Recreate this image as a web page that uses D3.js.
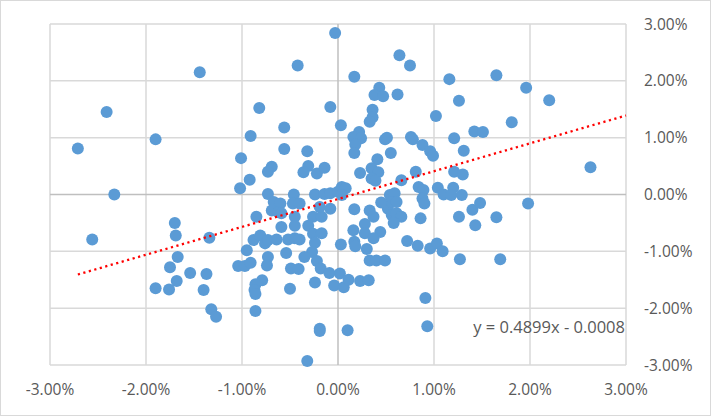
<!DOCTYPE html>
<html>
<head>
<meta charset="utf-8">
<script src="https://cdn.jsdelivr.net/npm/d3@7"></script>
<style>
  html, body { margin: 0; padding: 0; background: #ffffff; }
  svg { display: block; }
  text { font-family: "Open Sans", "Liberation Sans", sans-serif; }
</style>
</head>
<body>
<script>
// Data values in percent (x = market return, y = asset return)
const xValues = [
  -2.41,-2.71,-1.90,-2.33,-1.44,-0.42,-0.03,-0.82,-0.08,-0.56,-0.91,-1.01,-0.56,-0.32,-0.69,-0.73,-0.31,-0.36,-0.22,-0.14,
  -0.92,-1.02,-0.73,-0.46,-0.24,-0.14,-0.08,0.64,0.75,0.17,1.16,0.43,0.38,0.47,0.62,1.26,0.36,0.36,0.33,1.02,
  0.03,1.42,0.22,0.16,0.24,0.18,0.17,0.49,0.51,0.76,0.78,0.88,1.21,0.96,0.99,1.31,0.55,0.41,0.35,0.42,
  0.35,0.39,0.23,0.81,0.66,1.21,1.30,0.00,0.04,0.08,0.04,0.54,0.59,0.84,0.89,1.04,1.10,1.20,1.18,1.29,
  1.65,1.96,2.20,1.81,1.51,2.63,
  -2.56,-1.70,-1.69,-1.67,-1.75,-1.68,-1.90,-1.76,-1.54,-0.67,-0.60,-0.69,-0.62,-0.47,-0.40,-0.85,-0.59,-0.59,-0.45,-0.45,
  -0.26,-0.17,-0.19,-0.08,-0.31,-1.34,-0.88,-0.81,-0.76,-0.73,-0.64,-0.52,-0.45,-0.40,-0.26,-0.17,-0.24,-0.95,-0.54,-0.27,
  -0.35,-0.73,-0.74,-1.04,-0.97,-0.91,-0.22,-0.18,-0.09,-0.49,-0.41,-1.37,-0.79,-0.86,-0.87,-0.86,-0.24,-1.40,-0.50,-0.04,
  -1.32,-1.27,-0.86,-0.19,-0.19,-0.32,0.17,0.33,0.37,0.52,0.56,0.61,0.66,0.58,0.56,0.61,0.45,0.88,0.90,0.86,
  1.26,1.40,1.43,1.48,1.65,1.98,1.69,0.28,0.16,0.28,0.44,0.37,0.17,0.18,0.03,0.30,0.72,0.83,0.96,1.03,
  1.09,1.27,0.33,0.40,0.49,0.02,0.06,0.11,0.23,0.32,0.91,0.10,0.93
];
const yValues = [
  1.45,0.81,0.97,0.00,2.15,2.27,2.84,1.52,1.54,1.18,1.03,0.64,0.80,0.76,0.49,0.40,0.50,0.39,0.37,0.47,
  0.26,0.11,0.01,0.00,0.00,0.01,0.02,2.45,2.27,2.07,2.03,1.88,1.75,1.73,1.76,1.65,1.49,1.36,1.28,1.38,
  1.22,1.11,1.10,1.01,0.99,0.88,0.73,0.97,1.00,1.01,0.97,0.87,0.99,0.76,0.68,0.77,0.73,0.62,0.46,0.39,
  0.28,0.24,0.38,0.40,0.25,0.40,0.35,0.05,0.13,0.11,-0.01,-0.01,0.02,0.13,0.08,0.12,0.00,0.12,-0.01,-0.01,
  2.10,1.88,1.66,1.27,1.10,0.48,
  -0.79,-0.50,-0.72,-1.10,-1.28,-1.52,-1.65,-1.67,-1.38,-0.13,-0.16,-0.28,-0.31,-0.16,-0.16,-0.39,-0.33,-0.57,-0.39,-0.55,
  -0.39,-0.39,-0.22,-0.25,-0.55,-0.76,-0.80,-0.72,-0.86,-0.80,-0.79,-0.79,-0.77,-0.79,-0.69,-0.68,-0.85,-0.98,-1.03,-1.01,
  -1.10,-1.10,-1.25,-1.26,-1.26,-1.20,-1.17,-1.30,-1.38,-1.30,-1.31,-1.40,-1.51,-1.58,-1.68,-1.75,-1.55,-1.68,-1.66,-1.60,
  -2.02,-2.15,-2.05,-2.36,-2.40,-2.93,-0.26,-0.28,-0.39,-0.25,-0.36,-0.33,-0.39,-0.50,-0.13,-0.13,-0.14,-0.07,-0.16,-0.42,
  -0.39,-0.27,-0.54,-0.15,-0.40,-0.16,-1.14,-0.52,-0.63,-0.68,-0.66,-0.77,-0.83,-0.91,-0.88,-0.96,-0.82,-0.90,-0.95,-0.86,
  -1.00,-1.14,-1.16,-1.16,-1.16,-1.39,-1.63,-1.50,-1.52,-1.51,-1.82,-2.39,-2.32
];
const xTicks = [-3, -2, -1, 0, 1, 2, 3];
const yTicks = [-3, -2, -1, 0, 1, 2, 3];
const trendSlope = 0.4899;
const trendIntercept = -0.0008; // in decimal units
const trendLabel = "y = 0.4899x - 0.0008";

const W = 711, H = 416;
const svg = d3.select("body").append("svg").attr("width", W).attr("height", H);

svg.append("rect").attr("x", 0.5).attr("y", 0.5).attr("width", W - 1).attr("height", H - 1)
  .attr("fill", "#ffffff").attr("stroke", "#d9d9d9").attr("stroke-width", 1);

const x = d3.scaleLinear().domain([-3, 3]).range([50, 626]);
const y = d3.scaleLinear().domain([-3, 3]).range([365, 24]);
const fmt = d => d.toFixed(2) + "%";

// gridlines
const grid = svg.append("g");
grid.selectAll("line.v").data(xTicks.filter(d => d !== 0)).join("line")
  .attr("x1", d => x(d)).attr("x2", d => x(d)).attr("y1", y(3)).attr("y2", y(-3))
  .attr("stroke", "#d9d9d9").attr("stroke-width", 1.5);
grid.selectAll("line.h").data(yTicks.filter(d => d !== 0)).join("line")
  .attr("x1", x(-3)).attr("x2", x(3)).attr("y1", d => y(d)).attr("y2", d => y(d))
  .attr("stroke", "#d9d9d9").attr("stroke-width", 1.5);
// axis lines at zero
svg.append("line").attr("x1", x(-3)).attr("x2", x(3)).attr("y1", y(0)).attr("y2", y(0))
  .attr("stroke", "#bfbfbf").attr("stroke-width", 1.5);
svg.append("line").attr("x1", x(0)).attr("x2", x(0)).attr("y1", y(3)).attr("y2", y(-3))
  .attr("stroke", "#bfbfbf").attr("stroke-width", 1.5);

// tick labels
svg.append("g").selectAll("text").data(xTicks).join("text")
  .attr("x", d => x(d)).attr("y", 395).attr("text-anchor", "middle")
  .attr("font-size", 15.5).attr("fill", "#595959").text(fmt);
svg.append("g").selectAll("text").data(yTicks).join("text")
  .attr("x", 644).attr("y", d => y(d) + 5.5).attr("text-anchor", "start")
  .attr("font-size", 15.5).attr("fill", "#595959").text(fmt);

// points
const pts = xValues.map((v, i) => [v, yValues[i]]);
svg.append("g").selectAll("circle").data(pts).join("circle")
  .attr("cx", d => x(d[0])).attr("cy", d => y(d[1])).attr("r", 6)
  .attr("fill", "#5b9bd5");

// trendline
const xMin = d3.min(xValues);
const tx = [xMin, 3];
svg.append("path")
  .attr("d", d3.line().x(d => x(d)).y(d => y(trendSlope * d + trendIntercept * 100))(tx))
  .attr("fill", "none").attr("stroke", "#ff0000").attr("stroke-width", 2.3)
  .attr("stroke-dasharray", "2.2,3.5");

svg.append("text").attr("x", 625).attr("y", 332.5).attr("text-anchor", "end")
  .attr("font-size", 16.5).attr("fill", "#595959").text(trendLabel);
</script>
</body>
</html>
